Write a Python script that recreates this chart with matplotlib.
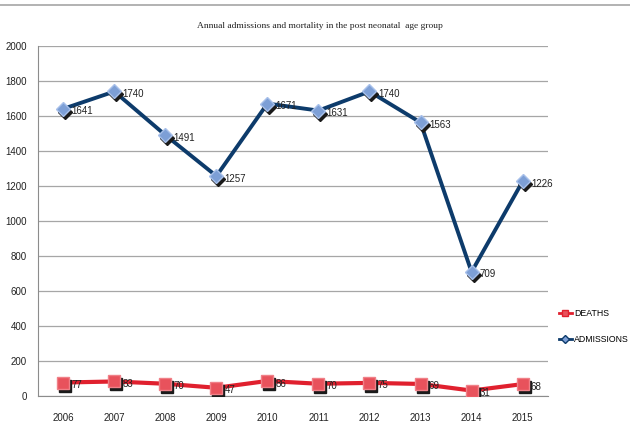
import matplotlib.pyplot as plt
import matplotlib.transforms as mtransforms
from matplotlib.lines import Line2D

years = ['2006', '2007', '2008', '2009', '2010', '2011', '2012', '2013', '2014', '2015']
admissions = [1641, 1740, 1491, 1257, 1671, 1631, 1740, 1563, 709, 1226]
deaths = [77, 83, 70, 47, 86, 70, 75, 69, 31, 68]

plt.rcParams['font.family'] = ['Liberation Sans', 'DejaVu Sans']

fig = plt.figure(figsize=(6.3, 4.22), dpi=100)
ax = fig.add_axes([0.060, 0.0616, 0.810, 0.8294])

x = list(range(len(years)))

# shadow of the markers, shifted down and right
shadow = mtransforms.offset_copy(ax.transData, fig=fig, x=2, y=-3, units='dots')
ax.plot(x, deaths, 's', color='#1a1a1a', markersize=8, transform=shadow, zorder=3)
ax.plot(x, admissions, 'D', color='#1a1a1a', markersize=7, transform=shadow, zorder=3)

ax.plot(x, deaths, '-', color='#e0202e', linewidth=3, zorder=2)
ax.plot(x, deaths, 's', color='#e8525c', markeredgecolor='#f08088', markersize=8, zorder=4)
ax.plot(x, admissions, '-', color='#0d3b6b', linewidth=2.8, zorder=2)
ax.plot(x, admissions, 'D', color='#7d9fd6', markeredgecolor='#a8c0ea', markersize=7, zorder=4)

for xi, v in zip(x, admissions):
    ax.annotate(str(v), (xi, v), xytext=(6, -4), textcoords='offset points',
                fontsize=7, color='#222222', zorder=5)
for xi, v in zip(x, deaths):
    ax.annotate(str(v), (xi, v), xytext=(6, -4), textcoords='offset points',
                fontsize=7, color='#222222', zorder=5)

ax.set_xlim(-0.5, len(years) - 0.5)
ax.set_ylim(0, 2000)
ax.set_yticks(range(0, 2001, 200))
ax.set_xticks(x)
ax.set_xticklabels(years)
ax.tick_params(axis='both', length=0, labelsize=7, colors='#222222')
ax.tick_params(axis='x', pad=12)
ax.tick_params(axis='y', pad=8)
ax.grid(axis='y', color='#a6a6a6', linewidth=0.9)
ax.set_axisbelow(True)
for s in ['top', 'right']:
    ax.spines[s].set_visible(False)
ax.spines['left'].set_color('#8c8c8c')
ax.spines['bottom'].set_color('#8c8c8c')

fig.text(0.508, 0.938, 'Annual admissions and mortality in the post neonatal  age group',
         ha='center', va='center', fontsize=6.8,
         family=['Liberation Serif', 'DejaVu Serif'], color='#222222')

# top border line
fig.add_artist(Line2D([0, 1], [0.988, 0.988], color='#a6a6a6', linewidth=1.2))

handles = [
    Line2D([], [], color='#e0202e', linewidth=2, marker='s', markersize=5,
           markerfacecolor='#e8525c', markeredgecolor='#e0202e'),
    Line2D([], [], color='#0d3b6b', linewidth=2, marker='D', markersize=4,
           markerfacecolor='#7d9fd6', markeredgecolor='#0d3b6b'),
]
fig.legend(handles, ['DEATHS', 'ADMISSIONS'], loc='upper left',
           bbox_to_anchor=(0.885, 0.272), frameon=False, fontsize=6.3,
           handlelength=1.4, handletextpad=0.3, labelspacing=1.9,
           borderpad=0.2, borderaxespad=0)

fig.savefig('out.png', dpi=100)
